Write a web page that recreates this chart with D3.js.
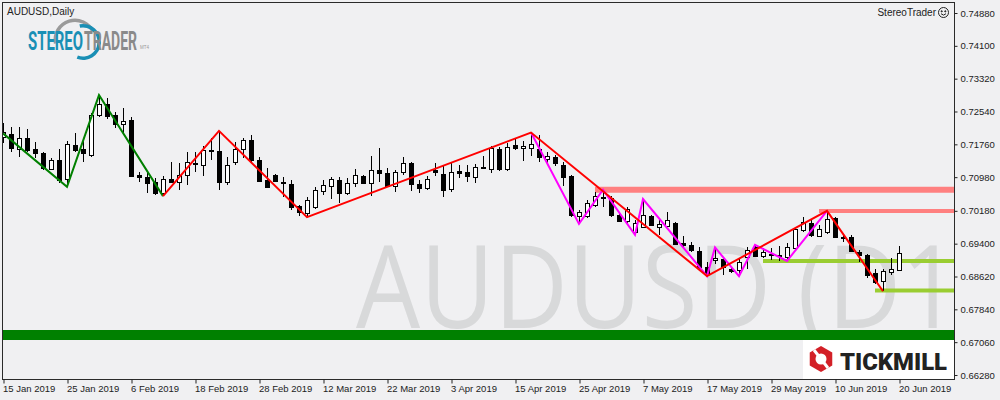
<!DOCTYPE html>
<html><head><meta charset="utf-8">
<script src="https://cdn.jsdelivr.net/npm/d3@7"></script>
<style>html,body{margin:0;padding:0;background:#F0F0F2;}svg{display:block;}</style>
</head><body>
<svg id="c" width="1000" height="400"></svg>
<script>
// ---- data ----
const dateLabels = ["15 Jan 2019","25 Jan 2019","6 Feb 2019","18 Feb 2019","28 Feb 2019","12 Mar 2019","22 Mar 2019","3 Apr 2019","15 Apr 2019","25 Apr 2019","7 May 2019","17 May 2019","29 May 2019","10 Jun 2019","20 Jun 2019"];
const dateLabelBars = [0,8,16,24,32,40,48,56,64,72,80,88,96,104,112];
const priceTicks = [0.7488,0.7410,0.7332,0.7254,0.7176,0.7098,0.7018,0.6940,0.6862,0.6784,0.6706,0.6628];
const opens = [.7194,.7200,.7165,.7190,.7164,.7155,.7117,.7139,.7093,.7174,.7165,.7151,.7246,.7273,.7246,.7224,.7234,.7103,.7098,.7087,.7060,.7094,.7086,.7103,.7132,.7127,.7160,.7160,.7086,.7133,.7164,.7186,.7139,.7091,.7103,.7087,.7082,.7030,.7012,.7026,.7066,.7078,.7091,.7060,.7083,.7101,.7083,.7115,.7107,.7078,.7110,.7131,.7082,.7072,.7115,.7106,.7069,.7113,.7110,.7099,.7121,.7117,.7164,.7117,.7174,.7167,.7167,.7164,.7140,.7145,.7127,.7101,.7006,.7006,.7032,.7050,.7048,.7008,.6994,.6968,.6979,.7006,.6980,.6983,.6989,.6941,.6937,.6923,.6884,.6901,.6903,.6879,.6877,.6909,.6933,.6911,.6913,.6911,.6908,.6929,.6972,.6988,.6958,.6968,.7000,.6953,.6955,.6921,.6913,.6870,.6852,.6872,.6877];
const highs = [.7226,.7218,.7218,.7212,.7182,.7158,.7143,.7165,.7184,.7203,.7186,.7250,.7293,.7285,.7253,.7262,.7242,.7111,.7107,.7096,.7101,.7135,.7131,.7158,.7158,.7172,.7191,.7208,.7147,.7182,.7192,.7198,.7147,.7119,.7106,.7099,.7091,.7032,.7050,.7075,.7091,.7099,.7099,.7096,.7117,.7103,.7149,.7167,.7119,.7115,.7147,.7135,.7091,.7101,.7132,.7124,.7135,.7127,.7127,.7129,.7149,.7172,.7170,.7178,.7190,.7185,.7204,.7198,.7158,.7151,.7135,.7103,.7020,.7044,.7062,.7068,.7053,.7012,.7028,.6996,.7046,.7008,.6997,.7016,.6992,.6958,.6945,.6933,.6897,.6931,.6909,.6885,.6905,.6933,.6937,.6930,.6929,.6934,.6941,.6980,.7004,.6996,.6984,.7018,.7004,.6961,.6960,.6925,.6915,.6879,.6879,.6907,.6935];
const lows = [.7178,.7158,.7145,.7158,.7143,.7115,.7115,.7084,.7075,.7158,.7135,.7147,.7240,.7235,.7214,.7202,.7099,.7087,.7060,.7056,.7053,.7083,.7068,.7079,.7111,.7101,.7139,.7068,.7079,.7127,.7143,.7131,.7087,.7072,.7087,.7052,.7020,.7006,.7003,.7022,.7056,.7046,.7037,.7056,.7075,.7082,.7053,.7087,.7075,.7063,.7103,.7066,.7061,.7068,.7101,.7050,.7063,.7096,.7087,.7085,.7117,.7107,.7113,.7113,.7163,.7137,.7148,.7133,.7131,.7125,.7078,.7004,.6987,.7000,.7028,.7026,.7004,.6992,.6990,.6961,.6977,.6982,.6961,.6979,.6937,.6933,.6921,.6881,.6863,.6892,.6866,.6870,.6863,.6879,.6909,.6906,.6901,.6900,.6899,.6926,.6967,.6957,.6955,.6963,.6955,.6945,.6921,.6897,.6858,.6844,.6827,.6866,.6876];
const closes = [.7205,.7167,.7190,.7163,.7156,.7119,.7139,.7091,.7176,.7163,.7155,.7246,.7273,.7244,.7224,.7232,.7101,.7099,.7085,.7060,.7093,.7086,.7103,.7135,.7129,.7162,.7163,.7087,.7127,.7164,.7186,.7139,.7090,.7075,.7090,.7083,.7028,.7016,.7044,.7068,.7079,.7094,.7061,.7083,.7103,.7083,.7115,.7109,.7078,.7110,.7131,.7081,.7072,.7093,.7110,.7068,.7110,.7109,.7101,.7123,.7123,.7167,.7117,.7169,.7168,.7172,.7177,.7145,.7148,.7132,.7099,.7008,.7015,.7036,.7053,.7048,.7008,.6995,.7022,.6990,.7008,.6984,.6987,.6996,.6939,.6938,.6925,.6885,.6870,.6907,.6884,.6876,.6897,.6925,.6911,.6921,.6915,.6913,.6931,.6974,.6992,.6961,.6974,.6998,.6957,.6957,.6923,.6913,.6866,.6849,.6875,.6881,.6919];
// zigzag pivots: bar index + price
const greenZigBars = [0,8,12,20];
const greenZigPrices = [.7202,.7075,.7293,.7053];
const redZigBars = [20,27,38,66,88,103,110];
const redZigPrices = [.7053,.7208,.7003,.7204,.6863,.7018,.6827];
const magentaZigBars = [66,72,75,79,80,88,89,92,94,98,103];
const magentaZigPrices = [.7204,.6987,.7068,.6961,.7046,.6863,.6931,.6863,.6937,.6899,.7018];
// horizontal levels: start bar, price
const salmonLevelBars = [74,102];
const salmonLevelPrices = [.7068,.70176];
const limeLevelBars = [95,109];
const limeLevelPrices = [.6899,.6829];
const greenBandPrice = 0.6723;

// ---- drawing ----
const svg = d3.select("#c");
const L = 2, R = 954, T = 2, B = 379;
const x = d3.scaleLinear().domain([0,112]).range([3,899]);
const y = d3.scaleLinear().domain([0.6628,0.7488]).range([375,13]);
const font = "'Liberation Sans', Arial, sans-serif";

const plot = svg.append("g");
svg.append("defs").append("clipPath").attr("id","pc").append("rect")
  .attr("x",L).attr("y",T).attr("width",R-L).attr("height",B-T);
plot.attr("clip-path","url(#pc)");

// watermark (the closing bracket is cut off by the plot edge in the reference)
plot.append("text").attr("x",0).attr("y",0)
  .attr("transform","translate(356,328) scale(0.875,1)")
  .attr("font-family","'Open Sans', sans-serif").attr("font-size",116)
  .attr("fill","#D8D9DA").text("AUDUSD (D1");

// green band
plot.append("line").attr("x1",L).attr("x2",R)
  .attr("y1",y(greenBandPrice)).attr("y2",y(greenBandPrice))
  .attr("stroke","#008000").attr("stroke-width",10);

// levels
salmonLevelBars.forEach((b,k)=>{
  plot.append("line").attr("x1",x(b)).attr("x2",R)
    .attr("y1",y(salmonLevelPrices[k])).attr("y2",y(salmonLevelPrices[k]))
    .attr("stroke","#FF8080").attr("stroke-width",k===0?6:4);
});
limeLevelBars.forEach((b,k)=>{
  plot.append("line").attr("x1",x(b)).attr("x2",R)
    .attr("y1",y(limeLevelPrices[k])).attr("y2",y(limeLevelPrices[k]))
    .attr("stroke","#9ACD32").attr("stroke-width",4);
});

// candles
const idx = d3.range(opens.length);
const cg = plot.append("g").attr("shape-rendering","crispEdges");
cg.selectAll("line.w").data(idx).join("line")
  .attr("x1",i=>Math.round(x(i))+0.5).attr("x2",i=>Math.round(x(i))+0.5)
  .attr("y1",i=>y(highs[i])).attr("y2",i=>y(lows[i]))
  .attr("stroke","#000").attr("stroke-width",1);
cg.selectAll("rect.b").data(idx).join("rect")
  .attr("x",i=>Math.round(x(i))-1.5).attr("width",4)
  .attr("y",i=>Math.round(y(Math.max(opens[i],closes[i])))+0.5)
  .attr("height",i=>Math.max(1,Math.round(y(Math.min(opens[i],closes[i])))-Math.round(y(Math.max(opens[i],closes[i])))))
  .attr("fill",i=>closes[i]>=opens[i]?"#fff":"#000")
  .attr("stroke","#000").attr("stroke-width",1);

// zigzags
const zz = (bars,prices,color)=>{
  const pts = bars.map((b,k)=>[x(b),y(prices[k])]);
  plot.append("path").attr("d",d3.line()(pts)).attr("fill","none")
    .attr("stroke",color).attr("stroke-width",2).attr("stroke-linejoin","miter");
};
zz(greenZigBars,greenZigPrices,"#008000");
zz(magentaZigBars,magentaZigPrices,"#FF00FF");
zz(redZigBars,redZigPrices,"#FF0000");

// frame
svg.append("rect").attr("x",L+0.5).attr("y",T+0.5).attr("width",R-L).attr("height",B-T)
  .attr("fill","none").attr("stroke","#2a2a2a").attr("stroke-width",1);

// right axis
const ya = d3.axisRight(y).tickValues(priceTicks).tickSize(3).tickPadding(3)
  .tickFormat(d=>d.toFixed(5));
const yg = svg.append("g").attr("transform",`translate(${R+0.5},0)`).call(ya);
yg.select(".domain").remove();
yg.selectAll("text").attr("font-family",font).attr("font-size",9.5).attr("fill","#222");
yg.selectAll("line").attr("stroke","#222");

// bottom axis
const xa = d3.axisBottom(x).tickValues(dateLabelBars).tickSize(4).tickPadding(2)
  .tickFormat((d,k)=>dateLabels[k]);
const xg = svg.append("g").attr("transform",`translate(0.5,${B+0.5})`).call(xa);
xg.select(".domain").remove();
xg.selectAll("text").attr("font-family",font).attr("font-size",9.5).attr("fill","#222")
  .attr("text-anchor","start").attr("dx",-1);
xg.selectAll("line").attr("stroke","#222");

// title
svg.append("text").attr("x",7).attr("y",15).attr("font-family",font).attr("font-size",10)
  .attr("fill","#222").text("AUDUSD,Daily");

// StereoTrader top-right
svg.append("text").attr("x",936).attr("y",16).attr("text-anchor","end").attr("font-family",font)
  .attr("font-size",10).attr("fill","#222").text("StereoTrader");
const sm = svg.append("g").attr("transform","translate(943.5,12.5)").attr("fill","none").attr("stroke","#222");
sm.append("circle").attr("r",5);
sm.append("circle").attr("cx",-1.8).attr("cy",-1.2).attr("r",0.6).attr("fill","#222");
sm.append("circle").attr("cx",1.8).attr("cy",-1.2).attr("r",0.6).attr("fill","#222");
sm.append("path").attr("d","M-2.5,1.2 Q0,4 2.5,1.2");

// helper: squeeze a text horizontally to a given width with a transform
const fitText = (g, str, x0, y0, w, size, weight, color, family) => {
  const t = g.append("text").attr("x",0).attr("y",0).attr("font-family",family)
    .attr("font-weight",weight).attr("font-size",size).attr("fill",color).text(str);
  const nat = t.node().getComputedTextLength() || w;
  t.attr("transform",`translate(${x0},${y0}) scale(${w/nat},1)`);
  return t;
};

// StereoTrader logo
const lg = svg.append("g");
const arc = d3.arc();
lg.append("path").attr("transform","translate(75,40)")
  .attr("d",arc({innerRadius:18,outerRadius:21.5,startAngle:-1.75,endAngle:1.15})).attr("fill","#9a9a9a");
lg.append("path").attr("transform","translate(83,42)")
  .attr("d",arc({innerRadius:14.5,outerRadius:18,startAngle:-0.2,endAngle:3.5})).attr("fill","#1a8fb5");
fitText(lg,"STEREO",28,50,55,25,"bold","#1a8fb5","'Roboto', sans-serif");
fitText(lg,"TRADER",84,50,53,25,"bold","#8a8a8a","'Roboto', sans-serif");
lg.append("text").attr("x",140).attr("y",49).attr("font-family",font).attr("font-size",4.5).attr("fill","#999").text("MT4");

// Tickmill logo
const tk = svg.append("g");
tk.append("rect").attr("x",803).attr("y",340).attr("width",151).attr("height",39).attr("fill","#fff");
const hex = d3.range(6).map(k=>{const a=Math.PI/3*k+Math.PI/6;return [821+13*Math.cos(a),359+13*Math.sin(a)];});
tk.append("path").attr("d","M"+hex.join("L")+"Z").attr("fill","#d32027");
tk.append("circle").attr("cx",821).attr("cy",359).attr("r",5.5).attr("fill","#fff");
tk.append("path").attr("d","M814,350 L828,368").attr("stroke","#fff").attr("stroke-width",3);
fitText(tk,"TICKMILL",840,370,107,23,"900","#222","'Roboto', sans-serif");
</script>
</body></html>
